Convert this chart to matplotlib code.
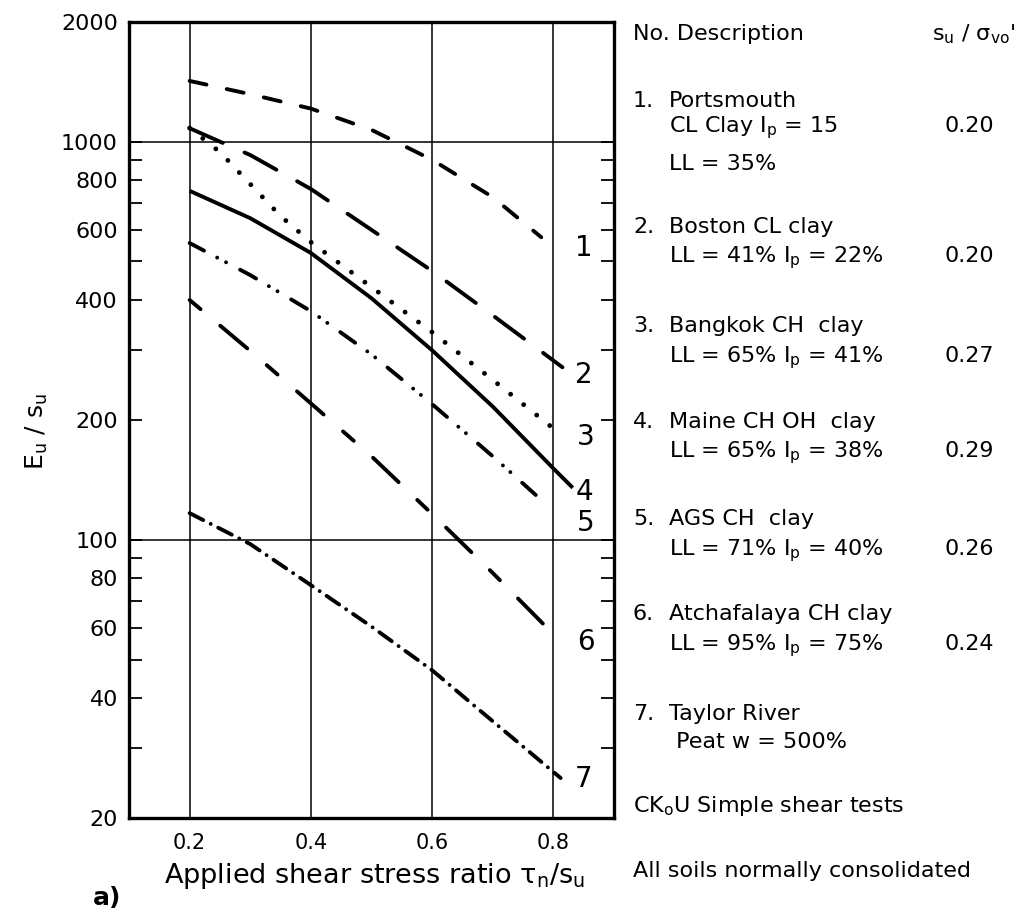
import matplotlib
matplotlib.use("Agg")
import matplotlib.pyplot as plt
from matplotlib.ticker import FixedLocator, FixedFormatter, NullLocator

plt.rcParams['font.family'] = ['DejaVu Sans']
plt.rcParams['mathtext.fontset'] = 'dejavusans'
plt.rcParams['mathtext.default'] = 'regular'
plt.rcParams['lines.scale_dashes'] = False

# ---------------- data ----------------
tau_1 = [0.20, 0.30, 0.40, 0.50, 0.60, 0.70, 0.78]
eu_1 = [1420, 1315, 1210, 1070, 900, 725, 575]

tau_2 = [0.20, 0.30, 0.40, 0.50, 0.60, 0.70, 0.815]
eu_2 = [1080, 925, 760, 600, 473, 366, 271]

tau_3 = [0.20, 0.25, 0.30, 0.35, 0.40, 0.50, 0.60, 0.70, 0.81]
eu_3 = [1081, 941, 782, 650, 559, 431, 332, 252, 185]

tau_4 = [0.20, 0.30, 0.40, 0.50, 0.60, 0.70, 0.80, 0.832]
eu_4 = [752, 642, 525, 404, 299, 216, 151, 135]

tau_5 = [0.20, 0.30, 0.40, 0.50, 0.60, 0.70, 0.786]
eu_5 = [556, 462, 375, 292, 219, 162, 123.5]

tau_6 = [0.20, 0.30, 0.40, 0.50, 0.60, 0.70, 0.80]
eu_6 = [400, 298, 220, 162, 116, 82.5, 57.9]

tau_7 = [0.20, 0.30, 0.40, 0.50, 0.60, 0.70, 0.812]
eu_7 = [116.6, 97.5, 76.9, 60.5, 47.0, 35.0, 25.2]

curve_labels = ["1", "2", "3", "4", "5", "6", "7"]
label_tau = [0.850, 0.850, 0.853, 0.852, 0.853, 0.853, 0.849]
label_eu = [540, 259, 181, 131.7, 110, 55.3, 25.1]

x_ticks = [0.2, 0.4, 0.6, 0.8]
x_tick_labels = ["0.2", "0.4", "0.6", "0.8"]
y_ticks = [20, 30, 40, 50, 60, 70, 80, 90, 100, 200, 300, 400, 500, 600, 700, 800, 900, 1000, 2000]
y_tick_labels = ["20", "", "40", "", "60", "", "80", "", "100", "200", "", "400", "", "600", "", "800", "", "1000", "2000"]
y_grid = [100, 1000]

desc_numbers = ["1.", "2.", "3.", "4.", "5.", "6.", "7."]
desc_line1 = ["Portsmouth", "Boston CL clay", "Bangkok CH  clay", "Maine CH OH  clay",
              "AGS CH  clay", "Atchafalaya CH clay", "Taylor River"]
desc_line2 = [r"CL Clay I$_p$ = 15", r"LL = 41% I$_p$ = 22%", r"LL = 65% I$_p$ = 41%",
              r"LL = 65% I$_p$ = 38%", r"LL = 71% I$_p$ = 40%", r"LL = 95% I$_p$ = 75%",
              " Peat w = 500%"]
desc_line3 = ["LL = 35%", "", "", "", "", "", ""]
su_ratio = ["0.20", "0.20", "0.27", "0.29", "0.26", "0.24", ""]

# ---------------- figure ----------------
W, H = 1020, 914
fig = plt.figure(figsize=(W / 100, H / 100), dpi=100)
fig.patch.set_facecolor("white")

def fx(px):
    return px / W

def fy(py):
    return 1 - py / H

ax = fig.add_axes([fx(129), fy(818), (614 - 129) / W, (818 - 21.7) / H])
ax.set_yscale("log")
ax.set_xlim(0.1, 0.9)
ax.set_ylim(20, 2000)

for s in ax.spines.values():
    s.set_linewidth(2.4)
    s.set_color("black")

for xv in x_ticks:
    ax.axvline(xv, color="black", lw=1.1, zorder=1)
for yv in y_grid:
    ax.axhline(yv, color="black", lw=1.1, zorder=1)

lw = 2.8
px = 0.72  # px -> pt
styles = [
    dict(ls=(0, (17.25 * px, 20.75 * px)), lw=lw),
    dict(ls=(0, (36.25 * px, 23.75 * px)), lw=lw),
    dict(ls=(0, (0.01, 16.7 * px)), lw=3.5),
    dict(ls="-", lw=lw),
    dict(ls=(2 * px, (18.25 * px, 14.9 * px, 0.01, 10 * px, 0.01, 15.9 * px)), lw=lw),
    dict(ls=(0, (14.25 * px, 25.75 * px, 35.25 * px, 25.75 * px)), lw=lw),
    dict(ls=(0, (15.25 * px, 8.4 * px, 0.01, 8.4 * px)), lw=lw),
]
series = [(tau_1, eu_1), (tau_2, eu_2), (tau_3, eu_3), (tau_4, eu_4),
          (tau_5, eu_5), (tau_6, eu_6), (tau_7, eu_7)]
for (t, e), st in zip(series, styles):
    ax.plot(t, e, color="black", lw=st["lw"], linestyle=st["ls"],
            dash_capstyle="round", solid_capstyle="butt",
            solid_joinstyle="round", zorder=3)

for lab, t, e in zip(curve_labels, label_tau, label_eu):
    ax.text(t, e, lab, fontsize=20, ha="center", va="center", zorder=4)

ax.xaxis.set_major_locator(FixedLocator(x_ticks))
ax.xaxis.set_major_formatter(FixedFormatter(x_tick_labels))
ax.xaxis.set_minor_locator(NullLocator())
ax.yaxis.set_major_locator(FixedLocator(y_ticks))
ax.yaxis.set_major_formatter(FixedFormatter(y_tick_labels))
ax.yaxis.set_minor_locator(NullLocator())
ax.tick_params(axis="x", length=0, labelsize=15, pad=11)
ax.tick_params(axis="y", which="both", direction="in", length=9.5, width=1.3,
               left=True, right=True, labelsize=16, pad=8)

# axis labels
fig.text(fx(374.5), fy(883), r"Applied shear stress ratio $\tau_n$/s$_u$",
         fontsize=19.5, ha="center", va="baseline")
fig.text(fx(37), fy(432), r"E$_u$ / s$_u$", fontsize=18, rotation=90,
         ha="center", va="center")
fig.text(fx(93), fy(905), "a)", fontsize=18, fontweight="bold",
         ha="left", va="baseline")

# description table
fs = 16
x_num, x_desc, x_val = 633, 669, 945
fig.text(fx(x_num), fy(40), "No. Description", fontsize=fs, va="baseline")
fig.text(fx(932), fy(40), r"s$_u$ / σ$_{vo}$'", fontsize=fs, va="baseline")

base1 = [107, 233, 332, 428, 525, 620, 720]
base2 = [132, 262, 362, 457, 555, 650, 748]
base3 = [170, None, None, None, None, None, None]
for i in range(7):
    fig.text(fx(x_num), fy(base1[i]), desc_numbers[i], fontsize=fs, va="baseline")
    fig.text(fx(x_desc), fy(base1[i]), desc_line1[i], fontsize=fs, va="baseline")
    fig.text(fx(x_desc), fy(base2[i]), desc_line2[i], fontsize=fs, va="baseline")
    if desc_line3[i]:
        fig.text(fx(x_desc), fy(base3[i]), desc_line3[i], fontsize=fs, va="baseline")
    if su_ratio[i]:
        fig.text(fx(x_val), fy(base2[i]), su_ratio[i], fontsize=fs, va="baseline")

fig.text(fx(x_num), fy(812), r"CK$_o$U Simple shear tests", fontsize=fs, va="baseline")
fig.text(fx(x_num), fy(877), "All soils normally consolidated", fontsize=fs, va="baseline")

fig.savefig("out.png", dpi=100)
